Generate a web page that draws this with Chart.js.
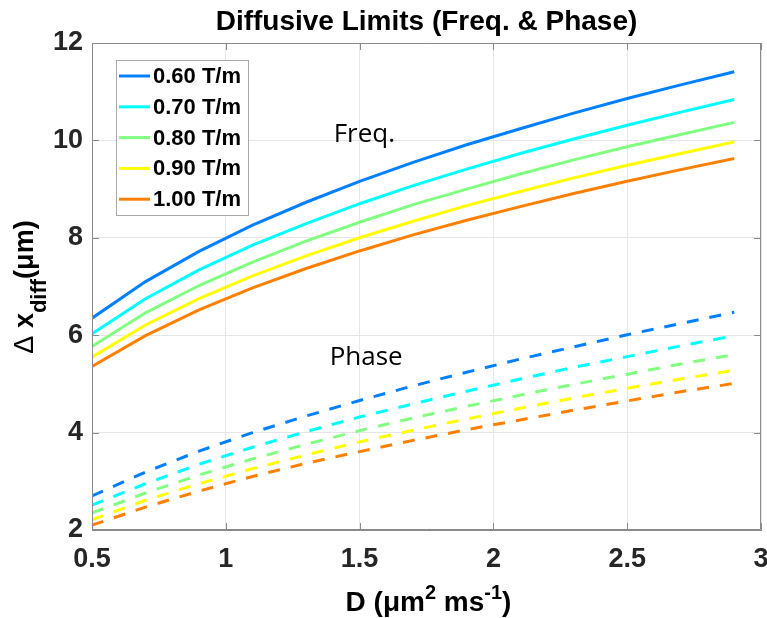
<!DOCTYPE html>
<html><head><meta charset="utf-8">
<script src="https://cdn.jsdelivr.net/npm/chart.js@4.4.0/dist/chart.umd.min.js"></script>
<style>html,body{margin:0;padding:0;background:#fff;}#wrap{width:767px;height:618px;position:relative;}</style>
</head><body><div id="wrap"><canvas id="c" width="767" height="618"></canvas></div>
<script>
// ---- data ----
const D = [0.5, 0.7, 0.9, 1.1, 1.3, 1.5, 1.7, 1.9, 2.1, 2.3, 2.5, 2.7, 2.9];
const gradientLabels = ['0.60 T/m', '0.70 T/m', '0.80 T/m', '0.90 T/m', '1.00 T/m'];
const seriesColors = ['#0080FF', '#00FFFF', '#80FF80', '#FFFF00', '#FF8000'];

const freq060 = [6.35, 7.10, 7.72, 8.26, 8.73, 9.16, 9.55, 9.91, 10.24, 10.56, 10.86, 11.14, 11.41];
const freq070 = [6.03, 6.75, 7.34, 7.85, 8.29, 8.70, 9.07, 9.41, 9.73, 10.03, 10.31, 10.58, 10.84];
const freq080 = [5.77, 6.46, 7.02, 7.50, 7.93, 8.32, 8.68, 9.00, 9.31, 9.60, 9.87, 10.12, 10.37];
const freq090 = [5.55, 6.21, 6.75, 7.22, 7.63, 8.00, 8.34, 8.66, 8.95, 9.23, 9.49, 9.73, 9.97];
const freq100 = [5.36, 5.99, 6.52, 6.97, 7.37, 7.73, 8.06, 8.36, 8.64, 8.91, 9.16, 9.40, 9.63];

const phase060 = [2.70, 3.19, 3.62, 4.00, 4.34, 4.66, 4.96, 5.24, 5.51, 5.76, 6.01, 6.24, 6.47];
const phase070 = [2.51, 2.95, 3.35, 3.70, 4.02, 4.32, 4.59, 4.85, 5.10, 5.34, 5.56, 5.78, 5.99];
const phase080 = [2.35, 2.76, 3.13, 3.46, 3.76, 4.04, 4.30, 4.54, 4.77, 4.99, 5.20, 5.41, 5.60];
const phase090 = [2.21, 2.61, 2.95, 3.26, 3.54, 3.81, 4.05, 4.28, 4.50, 4.71, 4.91, 5.10, 5.28];
const phase100 = [2.10, 2.47, 2.80, 3.10, 3.37, 3.61, 3.84, 4.06, 4.26, 4.46, 4.65, 4.84, 5.01];

const xTicks = [0.5, 1, 1.5, 2, 2.5, 3];
const yTicks = [2, 4, 6, 8, 10, 12];

const titleText = 'Diffusive Limits (Freq. & Phase)';
const freqSeries = [freq060, freq070, freq080, freq090, freq100];
const phaseSeries = [phase060, phase070, phase080, phase090, phase100];

// ---- build datasets ----
const toXY = arr => arr.map((v, i) => ({x: D[i], y: v}));
const datasets = [];
freqSeries.forEach((s, i) => datasets.push({
  label: gradientLabels[i], data: toXY(s), borderColor: seriesColors[i],
  borderWidth: 3, pointRadius: 0, tension: 0, fill: false
}));
phaseSeries.forEach((s, i) => datasets.push({
  label: gradientLabels[i] + ' (phase)', data: toXY(s), borderColor: seriesColors[i],
  borderWidth: 3, borderDash: [12, 11], pointRadius: 0, tension: 0, fill: false
}));

const FRAME = '#8a8a8a';
const GRID = '#e6e6e6';
const NARROW = '"Liberation Sans Narrow", "Liberation Sans", Arial, sans-serif';
const SANS = '"Liberation Sans", Arial, sans-serif';

const decor = {
  id: 'decor',
  afterDraw(chart) {
    const ctx = chart.ctx, a = chart.chartArea, xs = chart.scales.x, ys = chart.scales.y;
    ctx.save();
    // frame
    ctx.strokeStyle = FRAME; ctx.lineWidth = 1;
    ctx.beginPath();
    ctx.moveTo(a.left + 0.5, a.top + 0.5); ctx.lineTo(a.right - 0.5, a.top + 0.5);
    ctx.lineTo(a.right - 0.5, a.bottom - 0.5); ctx.lineTo(a.left + 0.5, a.bottom - 0.5);
    ctx.closePath(); ctx.stroke();
    // inward ticks
    const TL = 7;
    ctx.beginPath();
    xTicks.forEach(v => {
      const p = Math.round(xs.getPixelForValue(v)) + 0.5;
      ctx.moveTo(p, a.bottom); ctx.lineTo(p, a.bottom - TL);
      ctx.moveTo(p, a.top); ctx.lineTo(p, a.top + TL);
    });
    yTicks.forEach(v => {
      const p = Math.round(ys.getPixelForValue(v)) + 0.5;
      ctx.moveTo(a.left, p); ctx.lineTo(a.left + TL, p);
      ctx.moveTo(a.right, p); ctx.lineTo(a.right - TL, p);
    });
    ctx.stroke();

    // legend
    const lx = a.left + 24, ly = a.top + 17, lw = 132, lh = 155;
    ctx.fillStyle = '#fff'; ctx.fillRect(lx, ly, lw, lh);
    ctx.strokeStyle = '#a8a8a8'; ctx.lineWidth = 1;
    ctx.strokeRect(lx + 0.5, ly + 0.5, lw, lh);
    ctx.font = 'bold 22px ' + SANS;
    ctx.textBaseline = 'middle'; ctx.textAlign = 'left';
    gradientLabels.forEach((lab, i) => {
      const yy = ly + 16 + i * 30.8;
      ctx.strokeStyle = seriesColors[i]; ctx.lineWidth = 3;
      ctx.beginPath(); ctx.moveTo(lx + 3, yy); ctx.lineTo(lx + 34, yy); ctx.stroke();
      ctx.fillStyle = '#000'; ctx.fillText(lab, lx + 37, yy + 1);
    });

    // annotations
    ctx.font = '26px "Open Sans", Lato, sans-serif';
    ctx.textBaseline = 'alphabetic'; ctx.fillStyle = '#000';
    ctx.fillText('Freq.', xs.getPixelForValue(1.403), ys.getPixelForValue(9.97));
    ctx.fillText('Phase', xs.getPixelForValue(1.388), ys.getPixelForValue(5.39));

    // title
    ctx.font = 'bold 28px ' + SANS;
    ctx.textAlign = 'center'; ctx.fillStyle = '#000';
    ctx.fillText(titleText, (a.left + a.right) / 2, 30);

    // x label with superscripts
    const xParts = [
      {t: 'D (\u03bcm', f: 'bold 28px ' + SANS, dy: 0},
      {t: '2', f: 'bold 20px ' + SANS, dy: -12},
      {t: ' ms', f: 'bold 28px ' + SANS, dy: 0},
      {t: '-1', f: 'bold 20px ' + SANS, dy: -12},
      {t: ')', f: 'bold 28px ' + SANS, dy: 0}
    ];
    let tot = 0;
    xParts.forEach(p => { ctx.font = p.f; p.w = ctx.measureText(p.t).width; tot += p.w; });
    let cx = (a.left + a.right) / 2 + 2 - tot / 2;
    ctx.textAlign = 'left';
    xParts.forEach(p => { ctx.font = p.f; ctx.fillText(p.t, cx, 611 + p.dy); cx += p.w; });

    // y label (rotated) with subscript
    ctx.save();
    ctx.rotate(-Math.PI / 2);
    const yParts = [
      {t: '\u0394', f: '27px ' + SANS, dy: 0},
      {t: ' x', f: 'bold 27px ' + SANS, dy: 0},
      {t: 'diff', f: 'bold 22px ' + SANS, dy: 13},
      {t: '(\u03bcm)', f: 'bold 27px ' + SANS, dy: 0}
    ];
    let tw = 0;
    yParts.forEach(p => { ctx.font = p.f; p.w = ctx.measureText(p.t).width; tw += p.w; });
    let tx = -287 - tw / 2;
    yParts.forEach(p => { ctx.font = p.f; ctx.fillText(p.t, tx, 33 + p.dy); tx += p.w; });
    ctx.restore();

    ctx.restore();
  }
};

new Chart(document.getElementById('c'), {
  type: 'line',
  data: {datasets},
  options: {
    responsive: false, animation: false, devicePixelRatio: 1,
    layout: {padding: {top: 43, right: 6, left: 0, bottom: 0}},
    plugins: {legend: {display: false}, title: {display: false}, tooltip: {enabled: false}},
    elements: {line: {borderCapStyle: 'butt', borderJoinStyle: 'miter'}},
    scales: {
      x: {
        type: 'linear', min: 0.5, max: 3,
        afterBuildTicks: s => { s.ticks = xTicks.map(v => ({value: v})); },
        afterFit: s => { s.height = 88; s.paddingLeft = 0; s.paddingRight = 0; },
        grid: {color: GRID, drawTicks: false},
        border: {display: true, color: FRAME},
        ticks: {font: {family: NARROW, size: 27, weight: 'bold'}, color: '#262626', padding: 13, maxRotation: 0,
                callback: v => String(v)}
      },
      y: {
        type: 'linear', min: 2, max: 12,
        afterBuildTicks: s => { s.ticks = yTicks.map(v => ({value: v})); },
        afterFit: s => { s.width = 92; s.paddingTop = 0; s.paddingBottom = 0; },
        grid: {color: GRID, drawTicks: false},
        border: {display: true, color: FRAME},
        ticks: {font: {family: NARROW, size: 27, weight: 'bold'}, color: '#262626', padding: 9,
                callback: v => String(v)}
      }
    }
  },
  plugins: [decor]
});
</script></body></html>
